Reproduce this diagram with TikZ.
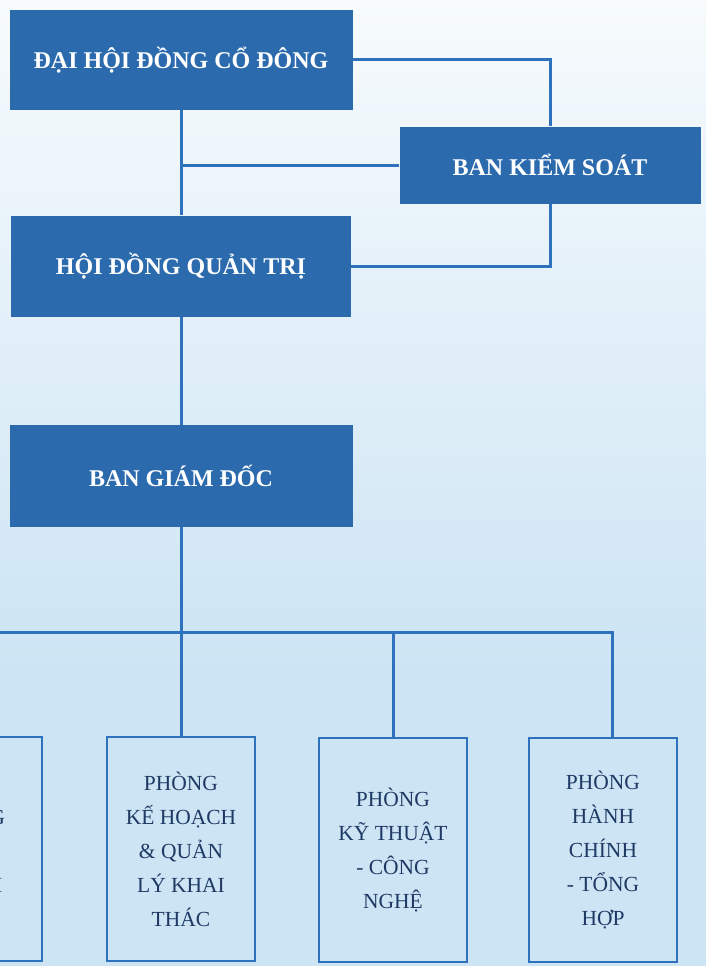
\documentclass[tikz,border=0pt]{standalone}
\usepackage{fontspec}
\setmainfont{Liberation Serif}
\usepackage{tikz}
\definecolor{boxblue}{RGB}{42,106,173}
\definecolor{lineblue}{RGB}{46,114,190}
\definecolor{navy}{RGB}{30,58,100}
\definecolor{paleblue}{RGB}{204,228,244}
\definecolor{topwhite}{RGB}{247,251,253}
\tikzset{
	board/.style={fill=boxblue,text=white,font=\bfseries\fontsize{24}{28}\selectfont,inner sep=0pt},
	dept/.style={draw=lineblue,line width=2.5pt,fill=paleblue,text=navy,align=center,
		minimum width=148pt,minimum height=224pt,inner sep=0pt,font=\fontsize{21.5}{34}\selectfont},
	link/.style={draw=lineblue,line width=3pt}
}

\begin{document}
\begin{tikzpicture}[x=1pt,y=-1pt]
	\useasboundingbox (0,0) rectangle (706,966);
	\clip (0,0) rectangle (706,966);
	\shade[top color=topwhite,bottom color=paleblue] (0,0) rectangle (706,680);
	\fill[paleblue] (0,679) rectangle (706,966);
	\node[board,minimum width=343pt,minimum height=100pt] (dhdcd) at (181,60) {ĐẠI HỘI ĐỒNG CỔ ĐÔNG};
	\node[board,minimum width=301pt,minimum height=77pt] (bks) at (550,165) {BAN KIỂM SOÁT};
	\node[board,minimum width=340pt,minimum height=101pt] (hdqt) at (181,266) {HỘI ĐỒNG QUẢN TRỊ};
	\node[board,minimum width=343pt,minimum height=102pt] (bgd) at (181,476) {BAN GIÁM ĐỐC};
	\node[dept] (tc) at (-32,849) {PHÒNG\\TÀI\\CHÍNH};
	\node[dept] (kh) at (181,849) {PHÒNG\\KẾ HOẠCH\\\& QUẢN\\LÝ KHAI\\THÁC};
	\node[dept] (kt) at (393,850) {PHÒNG\\KỸ THUẬT\\- CÔNG\\NGHỆ};
	\node[dept] (hc) at (603,850) {PHÒNG\\HÀNH\\CHÍNH\\- TỔNG\\HỢP};
	\coordinate (bus) at (0,632);
	\coordinate (hcdrop) at (612,738);
	\draw[link] (dhdcd.east) -| (bks.north);
	\draw[link] (hdqt.east) -| (bks.south);
	\draw[link] (dhdcd.south) -- (hdqt.north);
	\draw[link] (bks.west) -- (bks.west -| dhdcd.south);
	\draw[link] (hdqt.south) -- (bgd.north);
	\draw[link] (bgd.south) -- (kh.north);
	\draw[link] (tc.north) -- (tc.north |- bus) -- (bus -| hcdrop) -- (hcdrop);
	\draw[link] (kt.north) -- (kt.north |- bus);
\end{tikzpicture}
\end{document}
